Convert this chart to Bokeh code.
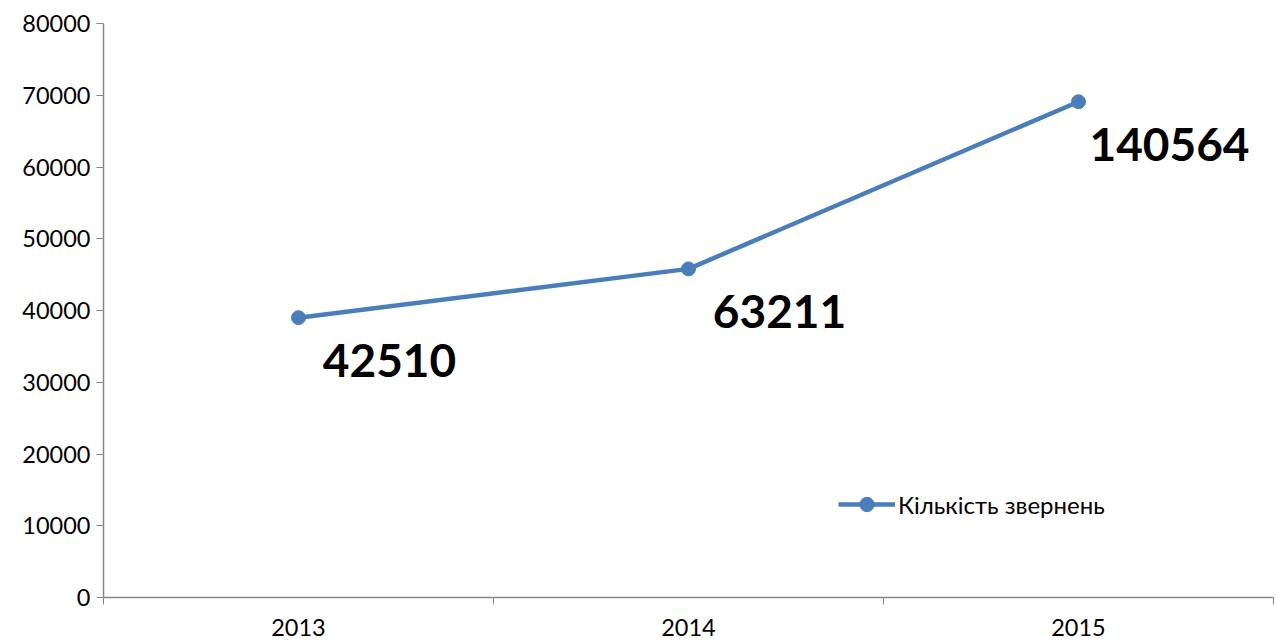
from bokeh.plotting import figure
from bokeh.models import FixedTicker, NumeralTickFormatter, Range1d, Legend, LegendItem, ColumnDataSource
from bokeh.core.properties import value
from bokeh.embed import file_html
from bokeh.resources import INLINE

years = ["2013", "2014", "2015"]
values = [39000, 45800, 69100]
labels = ["42510", "63211", "140564"]
series_name = "Кількість звернень"
y_ticks = [0, 10000, 20000, 30000, 40000, 50000, 60000, 70000, 80000]

xpos = [i + 0.5 for i in range(len(years))]
src = ColumnDataSource(dict(x=xpos, y=values, lab=labels))

p = figure(width=1274, height=640, output_backend="svg", toolbar_location=None,
           x_range=Range1d(0, len(years)), y_range=Range1d(0, 80000),
           min_border_left=103, min_border_right=1, min_border_top=23, min_border_bottom=43)
p.outline_line_color = None
p.grid.visible = False

AX = "#868686"
FONT = "Lato"

p.xaxis.ticker = FixedTicker(ticks=xpos, minor_ticks=list(range(len(years) + 1)))
p.xaxis.major_label_overrides = {x: y for x, y in zip(xpos, years)}
p.xaxis.major_tick_out = 0
p.xaxis.major_tick_in = 0
p.xaxis.minor_tick_out = 7
p.xaxis.minor_tick_in = 0
p.xaxis.minor_tick_line_color = AX
p.xaxis.axis_line_color = AX
p.xaxis.axis_line_width = 1.5
p.xaxis.major_label_standoff = 14
p.xaxis.major_label_text_font = FONT
p.xaxis.major_label_text_font_size = "23.5px"
p.xaxis.major_label_text_color = "#000000"

p.yaxis.ticker = FixedTicker(ticks=y_ticks)
p.yaxis.formatter = NumeralTickFormatter(format="0")
p.yaxis.major_tick_out = 7
p.yaxis.major_tick_in = 0
p.yaxis.minor_tick_line_color = None
p.yaxis.major_tick_line_color = AX
p.yaxis.axis_line_color = AX
p.yaxis.axis_line_width = 1.5
p.yaxis.major_label_standoff = 6
p.yaxis.major_label_text_font = FONT
p.yaxis.major_label_text_font_size = "23.5px"
p.yaxis.major_label_text_color = "#000000"

BLUE = "#4A7EBB"
ln = p.line("x", "y", source=src, line_color=BLUE, line_width=4.5)
sc = p.scatter("x", "y", source=src, size=14, fill_color=BLUE, line_color=BLUE)

p.text("x", "y", text="lab", source=src, x_offset=91, y_offset=43,
       text_font=value(FONT), text_font_style="bold", text_font_size="46px",
       text_align="center", text_baseline="middle", text_color="#000000")

legend = Legend(items=[LegendItem(label=series_name, renderers=[ln, sc])],
                location=(735, 75), padding=0, margin=0, spacing=0,
                glyph_width=57, glyph_height=36, label_height=36, label_standoff=3,
                label_text_font=FONT, label_text_font_size="24px",
                label_text_color="#000000",
                border_line_color=None, background_fill_alpha=0)
p.add_layout(legend, "center")

open("out.html", "w").write(file_html(p, INLINE))
